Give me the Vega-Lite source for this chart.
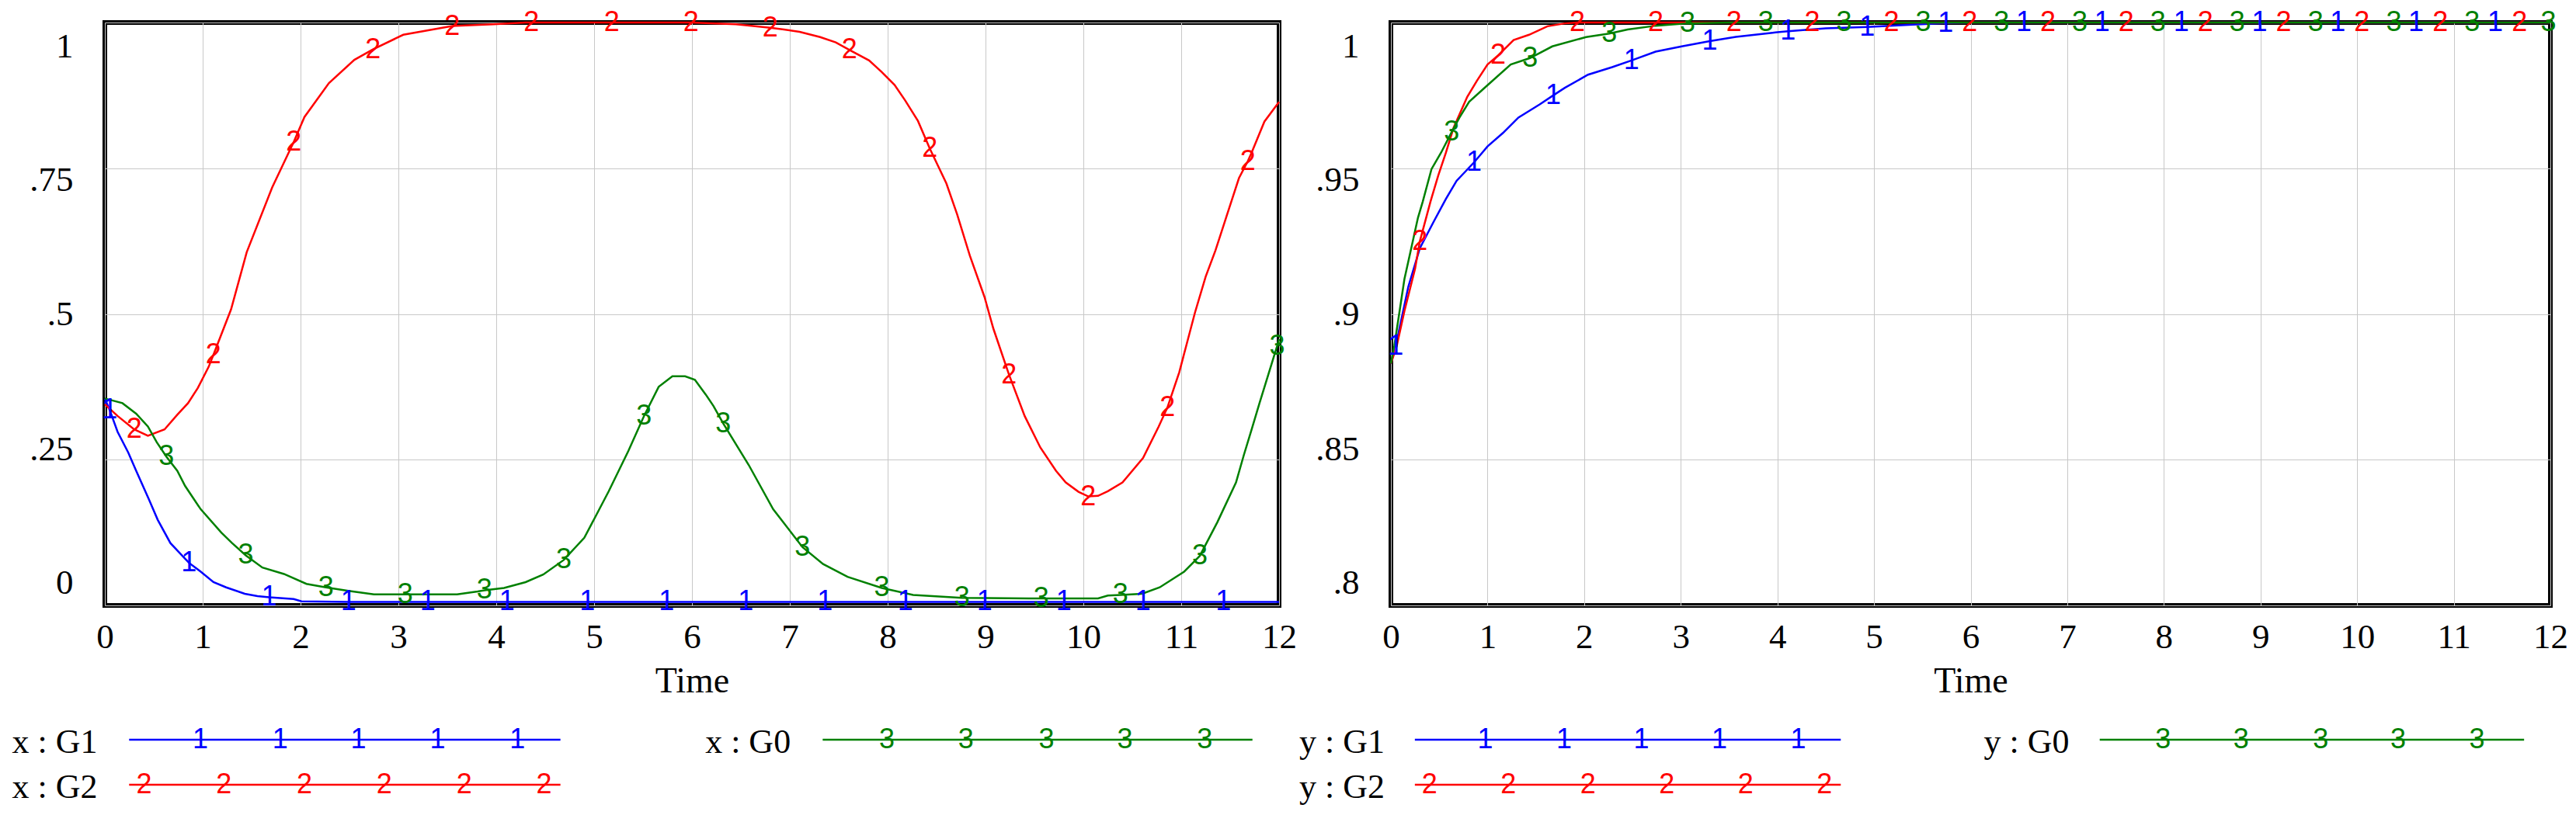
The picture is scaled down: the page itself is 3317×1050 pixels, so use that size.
{
  "$schema": "https://vega.github.io/schema/vega-lite/v6.json",
  "background": "white",
  "padding": {"left": 15, "top": 8, "right": 8, "bottom": 8},
  "config": {
    "view": {"stroke": "black", "strokeWidth": 6},
    "font": "Liberation Serif",
    "axis": {
      "domain": false, "ticks": false, "tickSize": 0,
      "grid": true, "gridColor": "#c8c8c8", "gridWidth": 1,
      "labelFont": "Liberation Serif", "labelFontSize": 45, "labelColor": "black",
      "titleFont": "Liberation Serif", "titleFontSize": 46, "titleFontWeight": "normal", "titleColor": "black"
    },
    "axisX": {"labelPadding": 18, "titlePadding": 12, "labelFlush": false, "labelOverlap": false},
    "axisY": {"labelPadding": 41, "labelOverlap": false}
  },
  "datasets": {
    "xs": [
      {"s":"G1","t":0,"v":0.355},
      {"s":"G1","t":0.05,"v":0.335,"k":"1"},
      {"s":"G1","t":0.13,"v":0.298},
      {"s":"G1","t":0.24,"v":0.262},
      {"s":"G1","t":0.32,"v":0.231},
      {"s":"G1","t":0.45,"v":0.182},
      {"s":"G1","t":0.54,"v":0.147},
      {"s":"G1","t":0.67,"v":0.107},
      {"s":"G1","t":0.77,"v":0.089},
      {"s":"G1","t":0.86,"v":0.073,"k":"1"},
      {"s":"G1","t":0.98,"v":0.058},
      {"s":"G1","t":1.11,"v":0.040},
      {"s":"G1","t":1.24,"v":0.031},
      {"s":"G1","t":1.43,"v":0.020},
      {"s":"G1","t":1.56,"v":0.016},
      {"s":"G1","t":1.68,"v":0.014,"k":"1"},
      {"s":"G1","t":1.93,"v":0.011},
      {"s":"G1","t":2.01,"v":0.007},
      {"s":"G1","t":2.49,"v":0.006,"k":"1"},
      {"s":"G1","t":3.3,"v":0.006,"k":"1"},
      {"s":"G1","t":4.11,"v":0.006,"k":"1"},
      {"s":"G1","t":4.93,"v":0.006,"k":"1"},
      {"s":"G1","t":5.74,"v":0.006,"k":"1"},
      {"s":"G1","t":6.55,"v":0.006,"k":"1"},
      {"s":"G1","t":7.36,"v":0.006,"k":"1"},
      {"s":"G1","t":8.18,"v":0.006,"k":"1"},
      {"s":"G1","t":8.99,"v":0.006,"k":"1"},
      {"s":"G1","t":9.8,"v":0.006,"k":"1"},
      {"s":"G1","t":10.61,"v":0.006,"k":"1"},
      {"s":"G1","t":11.43,"v":0.006,"k":"1"},
      {"s":"G1","t":12,"v":0.006},
      {"s":"G2","t":0,"v":0.345},
      {"s":"G2","t":0.13,"v":0.325},
      {"s":"G2","t":0.3,"v":0.302,"k":"2"},
      {"s":"G2","t":0.44,"v":0.291},
      {"s":"G2","t":0.61,"v":0.302},
      {"s":"G2","t":0.74,"v":0.327},
      {"s":"G2","t":0.85,"v":0.347},
      {"s":"G2","t":0.95,"v":0.373},
      {"s":"G2","t":1.06,"v":0.409},
      {"s":"G2","t":1.11,"v":0.43,"k":"2"},
      {"s":"G2","t":1.29,"v":0.508},
      {"s":"G2","t":1.45,"v":0.606},
      {"s":"G2","t":1.71,"v":0.717},
      {"s":"G2","t":1.93,"v":0.795,"k":"2"},
      {"s":"G2","t":2.04,"v":0.838},
      {"s":"G2","t":2.29,"v":0.896},
      {"s":"G2","t":2.55,"v":0.936},
      {"s":"G2","t":2.74,"v":0.954,"k":"2"},
      {"s":"G2","t":3.05,"v":0.979},
      {"s":"G2","t":3.55,"v":0.994,"k":"2"},
      {"s":"G2","t":3.97,"v":0.997},
      {"s":"G2","t":4.3,"v":1.0},
      {"s":"G2","t":4.36,"v":1.0,"k":"2"},
      {"s":"G2","t":5.18,"v":1.0,"k":"2"},
      {"s":"G2","t":5.99,"v":1.0,"k":"2"},
      {"s":"G2","t":6.45,"v":0.997},
      {"s":"G2","t":6.8,"v":0.991,"k":"2"},
      {"s":"G2","t":6.94,"v":0.988},
      {"s":"G2","t":7.1,"v":0.984},
      {"s":"G2","t":7.31,"v":0.975},
      {"s":"G2","t":7.47,"v":0.966},
      {"s":"G2","t":7.61,"v":0.953,"k":"2"},
      {"s":"G2","t":7.81,"v":0.935},
      {"s":"G2","t":7.94,"v":0.915},
      {"s":"G2","t":8.07,"v":0.893},
      {"s":"G2","t":8.18,"v":0.866},
      {"s":"G2","t":8.31,"v":0.831},
      {"s":"G2","t":8.43,"v":0.784,"k":"2"},
      {"s":"G2","t":8.6,"v":0.724},
      {"s":"G2","t":8.71,"v":0.671},
      {"s":"G2","t":8.84,"v":0.6},
      {"s":"G2","t":8.99,"v":0.529},
      {"s":"G2","t":9.08,"v":0.475},
      {"s":"G2","t":9.24,"v":0.396,"k":"2"},
      {"s":"G2","t":9.4,"v":0.325},
      {"s":"G2","t":9.56,"v":0.271},
      {"s":"G2","t":9.72,"v":0.231},
      {"s":"G2","t":9.82,"v":0.211},
      {"s":"G2","t":9.95,"v":0.195},
      {"s":"G2","t":10.05,"v":0.187,"k":"2"},
      {"s":"G2","t":10.15,"v":0.188},
      {"s":"G2","t":10.25,"v":0.196},
      {"s":"G2","t":10.4,"v":0.211},
      {"s":"G2","t":10.61,"v":0.253},
      {"s":"G2","t":10.77,"v":0.307},
      {"s":"G2","t":10.86,"v":0.34,"k":"2"},
      {"s":"G2","t":10.98,"v":0.4},
      {"s":"G2","t":11.14,"v":0.502},
      {"s":"G2","t":11.25,"v":0.564},
      {"s":"G2","t":11.35,"v":0.609},
      {"s":"G2","t":11.46,"v":0.666},
      {"s":"G2","t":11.59,"v":0.733},
      {"s":"G2","t":11.68,"v":0.762,"k":"2"},
      {"s":"G2","t":11.72,"v":0.777},
      {"s":"G2","t":11.85,"v":0.83},
      {"s":"G2","t":12,"v":0.864},
      {"s":"G0","t":0,"v":0.355},
      {"s":"G0","t":0.18,"v":0.347},
      {"s":"G0","t":0.32,"v":0.329},
      {"s":"G0","t":0.44,"v":0.307},
      {"s":"G0","t":0.53,"v":0.28},
      {"s":"G0","t":0.63,"v":0.255,"k":"3"},
      {"s":"G0","t":0.74,"v":0.231},
      {"s":"G0","t":0.82,"v":0.205},
      {"s":"G0","t":0.98,"v":0.165},
      {"s":"G0","t":1.19,"v":0.125},
      {"s":"G0","t":1.3,"v":0.107},
      {"s":"G0","t":1.44,"v":0.086,"k":"3"},
      {"s":"G0","t":1.61,"v":0.065},
      {"s":"G0","t":1.83,"v":0.054},
      {"s":"G0","t":2.06,"v":0.037},
      {"s":"G0","t":2.26,"v":0.031,"k":"3"},
      {"s":"G0","t":2.49,"v":0.025},
      {"s":"G0","t":2.75,"v":0.019},
      {"s":"G0","t":3.07,"v":0.019,"k":"3"},
      {"s":"G0","t":3.6,"v":0.019},
      {"s":"G0","t":3.81,"v":0.024},
      {"s":"G0","t":3.88,"v":0.026,"k":"3"},
      {"s":"G0","t":4.08,"v":0.03},
      {"s":"G0","t":4.3,"v":0.04},
      {"s":"G0","t":4.48,"v":0.053},
      {"s":"G0","t":4.69,"v":0.078,"k":"3"},
      {"s":"G0","t":4.9,"v":0.116},
      {"s":"G0","t":5.15,"v":0.196},
      {"s":"G0","t":5.35,"v":0.265},
      {"s":"G0","t":5.51,"v":0.325,"k":"3"},
      {"s":"G0","t":5.66,"v":0.375},
      {"s":"G0","t":5.8,"v":0.393},
      {"s":"G0","t":5.93,"v":0.393},
      {"s":"G0","t":6.03,"v":0.387},
      {"s":"G0","t":6.14,"v":0.362},
      {"s":"G0","t":6.22,"v":0.342},
      {"s":"G0","t":6.32,"v":0.312,"k":"3"},
      {"s":"G0","t":6.58,"v":0.241},
      {"s":"G0","t":6.83,"v":0.165},
      {"s":"G0","t":7.13,"v":0.1,"k":"3"},
      {"s":"G0","t":7.34,"v":0.071},
      {"s":"G0","t":7.59,"v":0.049},
      {"s":"G0","t":7.94,"v":0.03,"k":"3"},
      {"s":"G0","t":8.26,"v":0.018},
      {"s":"G0","t":8.76,"v":0.013,"k":"3"},
      {"s":"G0","t":9.44,"v":0.012},
      {"s":"G0","t":9.57,"v":0.012,"k":"3"},
      {"s":"G0","t":10.15,"v":0.012},
      {"s":"G0","t":10.25,"v":0.017},
      {"s":"G0","t":10.38,"v":0.018,"k":"3"},
      {"s":"G0","t":10.6,"v":0.02},
      {"s":"G0","t":10.78,"v":0.031},
      {"s":"G0","t":11.03,"v":0.058},
      {"s":"G0","t":11.19,"v":0.085,"k":"3"},
      {"s":"G0","t":11.37,"v":0.143},
      {"s":"G0","t":11.56,"v":0.211},
      {"s":"G0","t":11.64,"v":0.258},
      {"s":"G0","t":11.72,"v":0.302},
      {"s":"G0","t":11.8,"v":0.347},
      {"s":"G0","t":11.98,"v":0.445,"k":"3"},
      {"s":"G0","t":12,"v":0.457}
    ],
    "ys": [
      {"s":"G1","t":0,"v":0.883},
      {"s":"G1","t":0.05,"v":0.889,"k":"1"},
      {"s":"G1","t":0.18,"v":0.9093},
      {"s":"G1","t":0.3,"v":0.9226},
      {"s":"G1","t":0.44,"v":0.9315},
      {"s":"G1","t":0.57,"v":0.9395},
      {"s":"G1","t":0.68,"v":0.9457},
      {"s":"G1","t":0.86,"v":0.952,"k":"1"},
      {"s":"G1","t":1.0,"v":0.9575},
      {"s":"G1","t":1.16,"v":0.9621},
      {"s":"G1","t":1.32,"v":0.9674},
      {"s":"G1","t":1.54,"v":0.9719},
      {"s":"G1","t":1.68,"v":0.975,"k":"1"},
      {"s":"G1","t":1.8,"v":0.9776},
      {"s":"G1","t":2.04,"v":0.9821},
      {"s":"G1","t":2.29,"v":0.9847},
      {"s":"G1","t":2.49,"v":0.987,"k":"1"},
      {"s":"G1","t":2.74,"v":0.99},
      {"s":"G1","t":3.01,"v":0.9918},
      {"s":"G1","t":3.3,"v":0.9936,"k":"1"},
      {"s":"G1","t":3.57,"v":0.9951},
      {"s":"G1","t":3.95,"v":0.9965},
      {"s":"G1","t":4.11,"v":0.997,"k":"1"},
      {"s":"G1","t":4.5,"v":0.998},
      {"s":"G1","t":4.93,"v":0.9985,"k":"1"},
      {"s":"G1","t":5.4,"v":0.9993},
      {"s":"G1","t":5.74,"v":0.9998,"k":"1"},
      {"s":"G1","t":6.0,"v":1.0},
      {"s":"G1","t":6.55,"v":1.0,"k":"1"},
      {"s":"G1","t":7.36,"v":1.0,"k":"1"},
      {"s":"G1","t":8.18,"v":1.0,"k":"1"},
      {"s":"G1","t":8.99,"v":1.0,"k":"1"},
      {"s":"G1","t":9.8,"v":1.0,"k":"1"},
      {"s":"G1","t":10.61,"v":1.0,"k":"1"},
      {"s":"G1","t":11.43,"v":1.0,"k":"1"},
      {"s":"G1","t":12,"v":1.0},
      {"s":"G2","t":0,"v":0.883},
      {"s":"G2","t":0.06,"v":0.889},
      {"s":"G2","t":0.14,"v":0.901},
      {"s":"G2","t":0.25,"v":0.9155},
      {"s":"G2","t":0.3,"v":0.925,"k":"2"},
      {"s":"G2","t":0.41,"v":0.9386},
      {"s":"G2","t":0.49,"v":0.9475},
      {"s":"G2","t":0.57,"v":0.9554},
      {"s":"G2","t":0.65,"v":0.964},
      {"s":"G2","t":0.79,"v":0.9745},
      {"s":"G2","t":0.89,"v":0.98},
      {"s":"G2","t":1.0,"v":0.9856},
      {"s":"G2","t":1.11,"v":0.9887,"k":"2"},
      {"s":"G2","t":1.27,"v":0.994},
      {"s":"G2","t":1.43,"v":0.9958},
      {"s":"G2","t":1.62,"v":0.9987},
      {"s":"G2","t":1.8,"v":0.9997},
      {"s":"G2","t":1.93,"v":1.0,"k":"2"},
      {"s":"G2","t":2.74,"v":1.0,"k":"2"},
      {"s":"G2","t":3.55,"v":1.0,"k":"2"},
      {"s":"G2","t":4.36,"v":1.0,"k":"2"},
      {"s":"G2","t":5.18,"v":1.0,"k":"2"},
      {"s":"G2","t":5.99,"v":1.0,"k":"2"},
      {"s":"G2","t":6.8,"v":1.0,"k":"2"},
      {"s":"G2","t":7.61,"v":1.0,"k":"2"},
      {"s":"G2","t":8.43,"v":1.0,"k":"2"},
      {"s":"G2","t":9.24,"v":1.0,"k":"2"},
      {"s":"G2","t":10.05,"v":1.0,"k":"2"},
      {"s":"G2","t":10.86,"v":1.0,"k":"2"},
      {"s":"G2","t":11.68,"v":1.0,"k":"2"},
      {"s":"G2","t":12,"v":1.0},
      {"s":"G0","t":0,"v":0.883},
      {"s":"G0","t":0.035,"v":0.889},
      {"s":"G0","t":0.09,"v":0.901},
      {"s":"G0","t":0.14,"v":0.912},
      {"s":"G0","t":0.2,"v":0.921},
      {"s":"G0","t":0.28,"v":0.933},
      {"s":"G0","t":0.33,"v":0.9386},
      {"s":"G0","t":0.42,"v":0.9497},
      {"s":"G0","t":0.52,"v":0.9554},
      {"s":"G0","t":0.63,"v":0.9625,"k":"3"},
      {"s":"G0","t":0.71,"v":0.9674},
      {"s":"G0","t":0.81,"v":0.9728},
      {"s":"G0","t":1.0,"v":0.9785},
      {"s":"G0","t":1.24,"v":0.9856},
      {"s":"G0","t":1.44,"v":0.9878,"k":"3"},
      {"s":"G0","t":1.67,"v":0.9918},
      {"s":"G0","t":2.02,"v":0.995},
      {"s":"G0","t":2.26,"v":0.9962,"k":"3"},
      {"s":"G0","t":2.45,"v":0.9976},
      {"s":"G0","t":2.74,"v":0.9989},
      {"s":"G0","t":3.07,"v":0.9997,"k":"3"},
      {"s":"G0","t":3.5,"v":1.0},
      {"s":"G0","t":3.88,"v":1.0,"k":"3"},
      {"s":"G0","t":4.69,"v":1.0,"k":"3"},
      {"s":"G0","t":5.51,"v":1.0,"k":"3"},
      {"s":"G0","t":6.32,"v":1.0,"k":"3"},
      {"s":"G0","t":7.13,"v":1.0,"k":"3"},
      {"s":"G0","t":7.94,"v":1.0,"k":"3"},
      {"s":"G0","t":8.76,"v":1.0,"k":"3"},
      {"s":"G0","t":9.57,"v":1.0,"k":"3"},
      {"s":"G0","t":10.38,"v":1.0,"k":"3"},
      {"s":"G0","t":11.19,"v":1.0,"k":"3"},
      {"s":"G0","t":11.98,"v":1.0,"k":"3"},
      {"s":"G0","t":12,"v":1.0}
    ],
    "leg": [
      {"p":"x","label":"x : G1","s":"G1","row":1,"tx":-1.186,"x0":0.31,"x1":5.82},
      {"p":"x","label":"x : G2","s":"G2","row":2,"tx":-1.186,"x0":0.31,"x1":5.82},
      {"p":"x","label":"x : G0","s":"G0","row":1,"tx":7.67,"x0":9.17,"x1":14.66},
      {"p":"y","label":"y : G1","s":"G1","row":1,"tx":-1.186,"x0":0.31,"x1":5.82},
      {"p":"y","label":"y : G2","s":"G2","row":2,"tx":-1.186,"x0":0.31,"x1":5.82},
      {"p":"y","label":"y : G0","s":"G0","row":1,"tx":7.67,"x0":9.17,"x1":14.66}
    ],
    "legm": [
      {"s":"G1","row":1,"mx":1.22,"k":"1"},
      {"s":"G1","row":1,"mx":2.24,"k":"1"},
      {"s":"G1","row":1,"mx":3.24,"k":"1"},
      {"s":"G1","row":1,"mx":4.25,"k":"1"},
      {"s":"G1","row":1,"mx":5.27,"k":"1"},
      {"s":"G2","row":2,"mx":0.5,"k":"2"},
      {"s":"G2","row":2,"mx":1.52,"k":"2"},
      {"s":"G2","row":2,"mx":2.55,"k":"2"},
      {"s":"G2","row":2,"mx":3.57,"k":"2"},
      {"s":"G2","row":2,"mx":4.59,"k":"2"},
      {"s":"G2","row":2,"mx":5.61,"k":"2"},
      {"s":"G0","row":1,"mx":9.99,"k":"3"},
      {"s":"G0","row":1,"mx":11.0,"k":"3"},
      {"s":"G0","row":1,"mx":12.03,"k":"3"},
      {"s":"G0","row":1,"mx":13.03,"k":"3"},
      {"s":"G0","row":1,"mx":14.05,"k":"3"}
    ]
  },
  "columns": 2,
  "spacing": {"row": 144, "column": 144},
  "bounds": "flush",
  "concat": [
    {
      "width": 1512,
      "height": 751,
      "data": {"name": "xs"},
      "encoding": {
        "x": {
          "field": "t", "type": "quantitative",
          "scale": {"domain": [0, 12], "nice": false},
          "axis": {"values": [0,1,2,3,4,5,6,7,8,9,10,11,12], "title": "Time"}
        },
        "y": {
          "field": "v", "type": "quantitative",
          "scale": {"domain": [0, 1], "nice": false, "zero": false},
          "axis": {
            "values": [0, 0.25, 0.5, 0.75, 1],
            "title": null,
            "labelExpr": "datum.value == 0 ? '0' : datum.value == 1 ? '1' : substring(format(datum.value, '.2~f'), 1)",
            "labelOffset": {
              "condition": [
                {"test": "datum.value == 1", "value": 30},
                {"test": "datum.value == 0.75", "value": 15},
                {"test": "datum.value == 0.25", "value": -14},
                {"test": "datum.value == 0", "value": -30}
              ],
              "value": 0
            }
          }
        },
        "color": {
          "field": "s", "type": "nominal",
          "scale": {"domain": ["G1", "G2", "G0"], "range": ["#0000ff", "#ff0000", "#008000"]},
          "legend": null
        }
      },
      "layer": [
        {"mark": {"type": "line", "strokeWidth": 2.5, "interpolate": "linear"}},
        {
          "transform": [{"filter": "datum.k"}],
          "mark": {"type": "text", "font": "Liberation Sans", "fontSize": 36, "align": "center", "baseline": "middle"},
          "encoding": {"text": {"field": "k"}}
        }
      ]
    },
    {
      "width": 1493,
      "height": 751,
      "data": {"name": "ys"},
      "encoding": {
        "x": {
          "field": "t", "type": "quantitative",
          "scale": {"domain": [0, 12], "nice": false},
          "axis": {"values": [0,1,2,3,4,5,6,7,8,9,10,11,12], "title": "Time"}
        },
        "y": {
          "field": "v", "type": "quantitative",
          "scale": {"domain": [0.8, 1], "nice": false, "zero": false},
          "axis": {
            "values": [0.8, 0.85, 0.9, 0.95, 1],
            "title": null,
            "labelExpr": "datum.value == 1 ? '1' : substring(format(datum.value, '.2~f'), 1)",
            "labelOffset": {
              "condition": [
                {"test": "datum.value == 1", "value": 30},
                {"test": "datum.value == 0.95", "value": 15},
                {"test": "datum.value == 0.85", "value": -14},
                {"test": "datum.value == 0.8", "value": -30}
              ],
              "value": 0
            }
          }
        },
        "color": {
          "field": "s", "type": "nominal",
          "scale": {"domain": ["G1", "G2", "G0"], "range": ["#0000ff", "#ff0000", "#008000"]},
          "legend": null
        }
      },
      "layer": [
        {"mark": {"type": "line", "strokeWidth": 2.5, "interpolate": "linear"}},
        {
          "transform": [{"filter": "datum.k"}],
          "mark": {"type": "text", "font": "Liberation Sans", "fontSize": 36, "align": "center", "baseline": "middle"},
          "encoding": {"text": {"field": "k"}}
        }
      ]
    },
    {
      "width": 1512,
      "height": 116,
      "view": {"stroke": null},
      "layer": [
        {
          "data": {"name": "leg"},
          "transform": [{"filter": "datum.p == 'x'"}],
          "mark": {"type": "rule", "strokeWidth": 2.5},
          "encoding": {
            "x": {"field": "x0", "type": "quantitative", "scale": {"domain": [0, 15], "nice": false}, "axis": null},
            "x2": {"field": "x1"},
            "y": {"field": "row", "type": "ordinal", "scale": {"type": "point", "domain": [1, 2], "padding": 0.5}, "axis": null},
            "color": {"field": "s", "type": "nominal", "scale": {"domain": ["G1", "G2", "G0"], "range": ["#0000ff", "#ff0000", "#008000"]}, "legend": null}
          }
        },
        {
          "data": {"name": "leg"},
          "transform": [{"filter": "datum.p == 'x'"}],
          "mark": {"type": "text", "font": "Liberation Serif", "fontSize": 44, "align": "left", "baseline": "middle", "dy": 4, "color": "black"},
          "encoding": {
            "x": {"field": "tx", "type": "quantitative", "scale": {"domain": [0, 15], "nice": false}, "axis": null},
            "y": {"field": "row", "type": "ordinal", "scale": {"type": "point", "domain": [1, 2], "padding": 0.5}, "axis": null},
            "text": {"field": "label"}
          }
        },
        {
          "data": {"name": "legm"},
          "mark": {"type": "text", "font": "Liberation Sans", "fontSize": 36, "align": "center", "baseline": "middle"},
          "encoding": {
            "x": {"field": "mx", "type": "quantitative", "scale": {"domain": [0, 15], "nice": false}, "axis": null},
            "y": {"field": "row", "type": "ordinal", "scale": {"type": "point", "domain": [1, 2], "padding": 0.5}, "axis": null},
            "text": {"field": "k"},
            "color": {"field": "s", "type": "nominal", "scale": {"domain": ["G1", "G2", "G0"], "range": ["#0000ff", "#ff0000", "#008000"]}, "legend": null}
          }
        }
      ]
    },
    {
      "width": 1493,
      "height": 116,
      "view": {"stroke": null},
      "layer": [
        {
          "data": {"name": "leg"},
          "transform": [{"filter": "datum.p == 'y'"}],
          "mark": {"type": "rule", "strokeWidth": 2.5},
          "encoding": {
            "x": {"field": "x0", "type": "quantitative", "scale": {"domain": [0, 15], "nice": false}, "axis": null},
            "x2": {"field": "x1"},
            "y": {"field": "row", "type": "ordinal", "scale": {"type": "point", "domain": [1, 2], "padding": 0.5}, "axis": null},
            "color": {"field": "s", "type": "nominal", "scale": {"domain": ["G1", "G2", "G0"], "range": ["#0000ff", "#ff0000", "#008000"]}, "legend": null}
          }
        },
        {
          "data": {"name": "leg"},
          "transform": [{"filter": "datum.p == 'y'"}],
          "mark": {"type": "text", "font": "Liberation Serif", "fontSize": 44, "align": "left", "baseline": "middle", "dy": 4, "color": "black"},
          "encoding": {
            "x": {"field": "tx", "type": "quantitative", "scale": {"domain": [0, 15], "nice": false}, "axis": null},
            "y": {"field": "row", "type": "ordinal", "scale": {"type": "point", "domain": [1, 2], "padding": 0.5}, "axis": null},
            "text": {"field": "label"}
          }
        },
        {
          "data": {"name": "legm"},
          "mark": {"type": "text", "font": "Liberation Sans", "fontSize": 36, "align": "center", "baseline": "middle"},
          "encoding": {
            "x": {"field": "mx", "type": "quantitative", "scale": {"domain": [0, 15], "nice": false}, "axis": null},
            "y": {"field": "row", "type": "ordinal", "scale": {"type": "point", "domain": [1, 2], "padding": 0.5}, "axis": null},
            "text": {"field": "k"},
            "color": {"field": "s", "type": "nominal", "scale": {"domain": ["G1", "G2", "G0"], "range": ["#0000ff", "#ff0000", "#008000"]}, "legend": null}
          }
        }
      ]
    }
  ]
}
